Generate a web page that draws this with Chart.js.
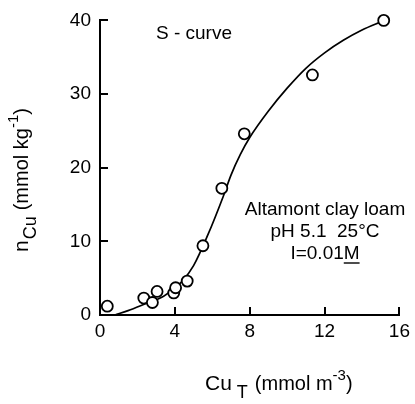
<!DOCTYPE html>
<html>
<head>
<meta charset="utf-8">
<script src="https://cdn.jsdelivr.net/npm/chart.js@4"></script>
<style>
  html, body { margin: 0; padding: 0; background: #fff; }
  #wrap { width: 415px; height: 404px; }
</style>
</head>
<body>
<div id="wrap"><canvas id="chart" width="415" height="404"></canvas></div>
<script>
// measured points: Cu_T (mmol m-3) vs n_Cu (mmol kg-1)
const cuT = [0.39, 2.34, 2.80, 3.05, 3.94, 4.04, 4.66, 5.50, 6.51, 7.71, 11.35, 15.16];
const nCu = [1.2, 2.3, 1.7, 3.2, 3.0, 3.7, 4.6, 9.4, 17.2, 24.6, 32.6, 40.0];

// fitted S-curve
const curveX = [0.8, 1.5, 2.5, 3.3, 4.0, 4.4, 5.0, 5.75, 6.6, 7.0, 7.5, 8.0, 9.0, 10.0, 11.0, 12.0, 13.0, 14.0, 15.1];
const curveY = [0.0, 0.6, 1.6, 2.4, 3.7, 4.6, 6.7, 10.8, 16.2, 19.0, 21.8, 24.1, 27.7, 30.8, 33.5, 35.6, 37.3, 38.7, 39.9];

const xTicks = [0, 4, 8, 12, 16];
const yTicks = [0, 10, 20, 30, 40];

const FONT = '"Liberation Sans", Arial, Helvetica, sans-serif';

// inward tick marks + annotation text + axis titles with sub/superscripts
const decorations = {
  id: 'decorations',
  afterDraw(chart) {
    const ctx = chart.ctx;
    const xs = chart.scales.x, ys = chart.scales.y;
    const area = chart.chartArea;
    ctx.save();
    ctx.fillStyle = '#000';
    xTicks.forEach(v => {
      const px = Math.round(xs.getPixelForValue(v));
      ctx.fillRect(px - 1, area.bottom - 8, 2, 8);
    });
    yTicks.forEach(v => {
      const py = Math.round(ys.getPixelForValue(v));
      ctx.fillRect(area.left, py - 1, 8, 2);
    });

    ctx.strokeStyle = '#000';
    ctx.textBaseline = 'alphabetic';

    // S-curve label
    ctx.font = '19px ' + FONT;
    ctx.textAlign = 'left';
    ctx.fillText('S - curve', 156, 39);

    // conditions block
    ctx.font = '19px ' + FONT;
    ctx.textAlign = 'center';
    const cx = 325;
    ctx.fillText('Altamont clay loam', cx, 215);
    ctx.fillText('pH 5.1  25\u00B0C', cx, 237);
    ctx.textAlign = 'left';
    const s1 = 'I=0.01', s2 = 'M';
    const w1 = ctx.measureText(s1).width, w2 = ctx.measureText(s2).width;
    const lx = cx - (w1 + w2) / 2;
    ctx.fillText(s1, lx, 259);
    ctx.fillText(s2, lx + w1, 259);
    ctx.lineWidth = 1.4;
    ctx.beginPath();
    ctx.moveTo(lx + w1, 263);
    ctx.lineTo(lx + w1 + w2, 263);
    ctx.stroke();

    // x axis title: Cu_T (mmol m^-3)
    let x = 205;
    const by = 390;
    ctx.font = '21px ' + FONT;
    ctx.fillText('Cu', x, by);
    x += ctx.measureText('Cu').width + 5;
    ctx.font = '18px ' + FONT;
    ctx.fillText('T', x, by + 8);
    x += ctx.measureText('T').width + 7;
    ctx.font = '20px ' + FONT;
    ctx.fillText('(mmol m', x, by);
    x += ctx.measureText('(mmol m').width;
    ctx.font = '15px ' + FONT;
    ctx.fillText('-3', x, by - 10);
    x += ctx.measureText('-3').width;
    ctx.font = '20px ' + FONT;
    ctx.fillText(')', x, by);

    // y axis title: n_Cu (mmol kg^-1), rotated
    ctx.translate(28, 252);
    ctx.rotate(-Math.PI / 2);
    let y = 0;
    ctx.font = '21px ' + FONT;
    ctx.fillText('n', y, 0);
    y += ctx.measureText('n').width + 1;
    ctx.font = '18px ' + FONT;
    ctx.fillText('Cu', y, 8);
    y += ctx.measureText('Cu').width + 6;
    ctx.font = '20px ' + FONT;
    ctx.fillText('(mmol kg', y, 0);
    y += ctx.measureText('(mmol kg').width;
    ctx.font = '15px ' + FONT;
    ctx.fillText('-1', y, -10);
    y += ctx.measureText('-1').width;
    ctx.font = '20px ' + FONT;
    ctx.fillText(')', y, 0);
    ctx.restore();
  }
};

new Chart(document.getElementById('chart'), {
  type: 'scatter',
  data: {
    datasets: [
      {
        label: 'measured',
        data: cuT.map((v, i) => ({ x: v, y: nCu[i] })),
        pointRadius: 5.5,
        pointBorderWidth: 1.8,
        pointBorderColor: '#000',
        pointBackgroundColor: '#fff',
        showLine: false,
        clip: false
      },
      {
        label: 'S-curve',
        data: curveX.map((v, i) => ({ x: v, y: curveY[i] })),
        showLine: true,
        borderColor: '#000',
        borderWidth: 1.7,
        pointRadius: 0,
        cubicInterpolationMode: 'monotone',
        clip: false
      }
    ]
  },
  options: {
    responsive: false,
    animation: false,
    layout: { padding: { top: 15, right: 14, left: 0, bottom: 0 } },
    plugins: { legend: { display: false }, tooltip: { enabled: false } },
    scales: {
      x: {
        type: 'linear',
        min: 0, max: 16,
        afterBuildTicks: s => { s.ticks = xTicks.map(v => ({ value: v })); },
        afterFit: s => { s.height = 89; },
        grid: { display: false, drawTicks: false },
        border: { display: true, color: '#000', width: 2 },
        ticks: { color: '#000', padding: 5, font: { family: FONT, size: 19 } }
      },
      y: {
        type: 'linear',
        min: 0, max: 40,
        afterBuildTicks: s => { s.ticks = yTicks.map(v => ({ value: v })); },
        afterFit: s => { s.width = 100; },
        grid: { display: false, drawTicks: false },
        border: { display: true, color: '#000', width: 2 },
        ticks: { color: '#000', padding: 9, font: { family: FONT, size: 19 } }
      }
    }
  },
  plugins: [decorations]
});
</script>
</body>
</html>
